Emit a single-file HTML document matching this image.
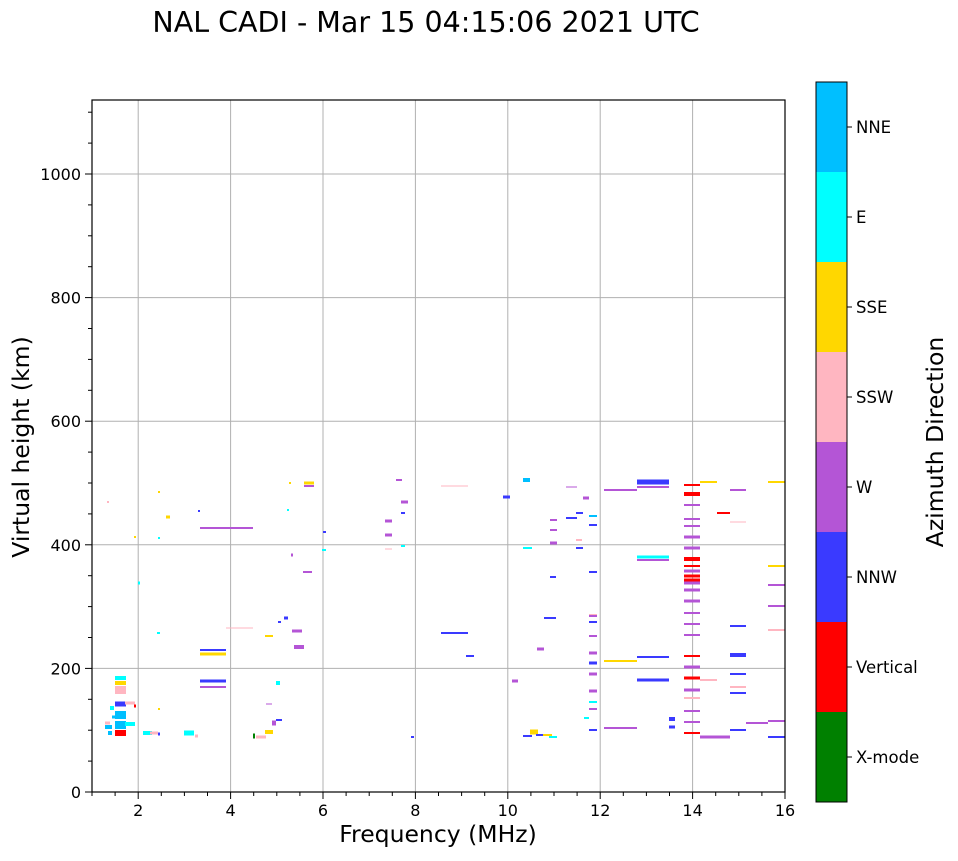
<!DOCTYPE html><html><head><style>
body{margin:0;background:#fff;width:958px;height:857px;overflow:hidden;font-family:"DejaVu Sans",sans-serif}
</style></head><body>
<svg id="s" width="958" height="857" xmlns="http://www.w3.org/2000/svg" font-family="DejaVu Sans, Liberation Sans, sans-serif">
<text x="426" y="32" font-size="28.5" text-anchor="middle">NAL CADI - Mar 15 04:15:06 2021 UTC</text>
<g id="grid"></g><g id="data"></g>
<rect x="92" y="100" width="693" height="692" fill="none" stroke="#000" stroke-width="1.2"/>
<g id="ax"></g>
<text x="438" y="842" font-size="23.5" text-anchor="middle">Frequency (MHz)</text>
<text transform="translate(29,447) rotate(-90)" font-size="23.5" text-anchor="middle">Virtual height (km)</text>
<g id="cb"></g>
<text transform="translate(943,442) rotate(-90)" font-size="23.5" text-anchor="middle">Azimuth Direction</text>
</svg>
<script>
const ns="http://www.w3.org/2000/svg";
function el(p,t,a,txt){const e=document.createElementNS(ns,t);for(const k in a)e.setAttribute(k,a[k]);if(txt!==undefined)e.textContent=txt;document.getElementById(p).appendChild(e);}
const X=f=>92+(f-1)*46.2, Y=h=>792-h*0.618;
for(let f=2;f<=16;f+=2){el('grid','line',{x1:X(f),x2:X(f),y1:100,y2:792,stroke:'#b0b0b0'});
 el('ax','text',{x:X(f),y:816,'font-size':16,'text-anchor':'middle'},f);}
for(let f=1;f<=16;f+=0.5){el('ax','line',{x1:X(f),x2:X(f),y1:792,y2:f%2==0?799:796,stroke:'#000'});}
for(let h=0;h<=1100;h+=50){let m=h%200==0;el('ax','line',{x1:m?85:88,x2:92,y1:Y(h),y2:Y(h),stroke:'#000'});
 if(m){el('grid','line',{x1:92,x2:785,y1:Y(h),y2:Y(h),stroke:'#b0b0b0'});el('ax','text',{x:81,y:Y(h)+6,'font-size':16,'text-anchor':'end'},h);}}
const C={g:'#008000',r:'#ff0000',b:'#3a3aff',w:'#b455d6',p:'#ffb6c1',y:'#ffd700',c:'#00ffff',n:'#00bfff'};
const cols=['g','r','b','w','p','y','c','n'],names=['X-mode','Vertical','NNW','W','SSW','SSE','E','NNE'];
cols.forEach((c,i)=>{let y0=802-(i+1)*90;el('cb','rect',{x:816,y:y0,width:31,height:90,fill:C[c]});
 el('cb','line',{x1:847,x2:852,y1:y0+45,y2:y0+45,stroke:'#000'});el('cb','text',{x:856,y:y0+51,'font-size':16.5},names[i]);});
el('cb','rect',{x:816,y:82,width:31,height:720,fill:'none',stroke:'#000'});
const S=[
[115,126,733,'r',6],[115,126,725,'n',8],[115,126,715,'n',8],[115,126,704,'b',5],[115,126,690,'p',8],[115,126,683,'y',4],[115,126,678,'c',4],[125,135,724,'c',4],[108,112,733,'n',4],[105,112,727,'n',4],[110,114,708,'c',4],[125,135,703,'p',3],[134,136,706,'r',3],[105,110,723,'p',3],[112,118,717,'n',3],
[143,152,733,'c',4],[150,158,733,'p',3],[184,194,733,'c',5],[195,198,736,'p',3],[158,160,734,'b',3],[138,140,583,'c',3],[157,160,633,'c',2],[158,160,709,'y',2],[158,160,492,'y',2],[158,160,538,'c',2],[166,170,517,'y',3],[134,136,537,'y',2],[107,109,502,'p',2],[198,200,511,'b',2],
[200,226,654,'y',3],[200,226,650,'b',2],[200,226,681,'b',3],[200,226,687,'w',2],[200,253,528,'w',2],[226,253,628,'p',1],
[253,255,736,'g',5],[256,266,737,'p',3],[265,273,732,'y',4],[265,273,636,'y',2],[266,272,704,'w',1],[272,276,723,'w',5],[276,282,720,'b',2],[276,280,683,'c',4],[284,288,618,'b',3],[292,302,631,'w',3],[294,304,647,'w',4],[303,312,572,'w',2],[304,314,483,'y',3],[304,314,486,'w',2],[287,289,510,'c',2],[289,291,483,'y',2],[291,293,555,'w',3],[278,281,622,'b',2],
[323,326,532,'b',2],[322,326,550,'c',2],[385,392,521,'w',3],[385,392,535,'w',3],[385,392,549,'p',1],[401,408,502,'w',3],[401,405,513,'b',2],[401,405,546,'c',2],[396,402,480,'w',2],[441,468,486,'p',1],[441,468,633,'b',2],[466,474,656,'b',2],[411,414,737,'b',2],
[503,510,497,'b',3],[523,530,480,'n',4],[523,532,548,'c',2],[523,532,736,'b',2],[530,538,732,'y',5],[536,545,735,'b',2],[543,552,735,'y',2],[549,557,737,'c',2],[537,544,649,'w',3],[512,518,681,'w',3],[544,556,618,'b',2],[550,556,577,'b',2],[550,557,520,'w',2],[550,557,530,'w',2],[550,557,543,'w',3],[566,577,487,'w',1],[566,577,518,'b',2],[576,583,513,'b',2],[576,583,548,'b',2],[583,589,498,'w',3],[576,582,540,'p',2],
[589,597,572,'b',2],[589,597,615,'p',2],[589,597,622,'b',2],[589,597,636,'w',2],[589,597,653,'w',3],[589,597,663,'b',3],[589,597,674,'w',3],[589,597,691,'w',3],[589,597,702,'c',2],[589,597,709,'w',2],[589,597,730,'b',2],[589,597,516,'n',2],[589,597,525,'b',2],[589,597,616,'w',2],[584,589,718,'c',2],
[604,637,490,'w',2],[604,637,661,'y',2],[604,637,728,'w',2],[637,669,482,'b',5],[637,669,487,'w',2],[637,669,557,'c',3],[637,669,560,'w',2],[637,669,657,'b',2],[637,669,680,'b',3],[669,675,719,'b',4],[669,675,727,'b',3],
[684,700,485,'r',2],[684,700,494,'r',4],[684,700,505,'w',2],[684,700,526,'w',2],[684,700,537,'w',3],[684,700,548,'w',3],[684,700,559,'r',4],[684,700,571,'w',3],[684,700,576,'r',3],[684,700,583,'w',3],[684,700,590,'w',3],[684,700,601,'w',3],[684,700,613,'w',2],[684,700,624,'w',2],[684,700,635,'w',2],[684,700,656,'r',2],[684,700,667,'w',3],[684,700,678,'r',3],[684,700,690,'w',3],[684,700,698,'p',2],[684,700,711,'w',2],[684,700,722,'w',2],[684,700,733,'r',2],[684,700,580,'r',3],[684,700,566,'r',2],[684,700,519,'w',2],
[700,717,482,'y',2],[700,717,680,'p',2],[700,730,737,'w',3],[717,730,513,'r',2],[730,746,490,'w',2],[730,746,522,'p',1],[730,746,626,'b',2],[730,746,655,'b',4],[730,746,674,'b',2],[730,746,687,'p',2],[730,746,693,'b',2],[730,746,730,'b',2],[746,768,723,'w',2],[768,785,482,'y',2],[768,785,566,'y',2],[768,785,585,'w',2],[768,785,606,'w',2],[768,785,630,'p',2],[768,785,721,'w',2],[768,785,737,'b',2]];
S.forEach(s=>el('data','rect',{x:s[0],y:s[2]-s[4]/2,width:s[1]-s[0],height:s[4],fill:C[s[3]]}));
</script>
</body></html>
